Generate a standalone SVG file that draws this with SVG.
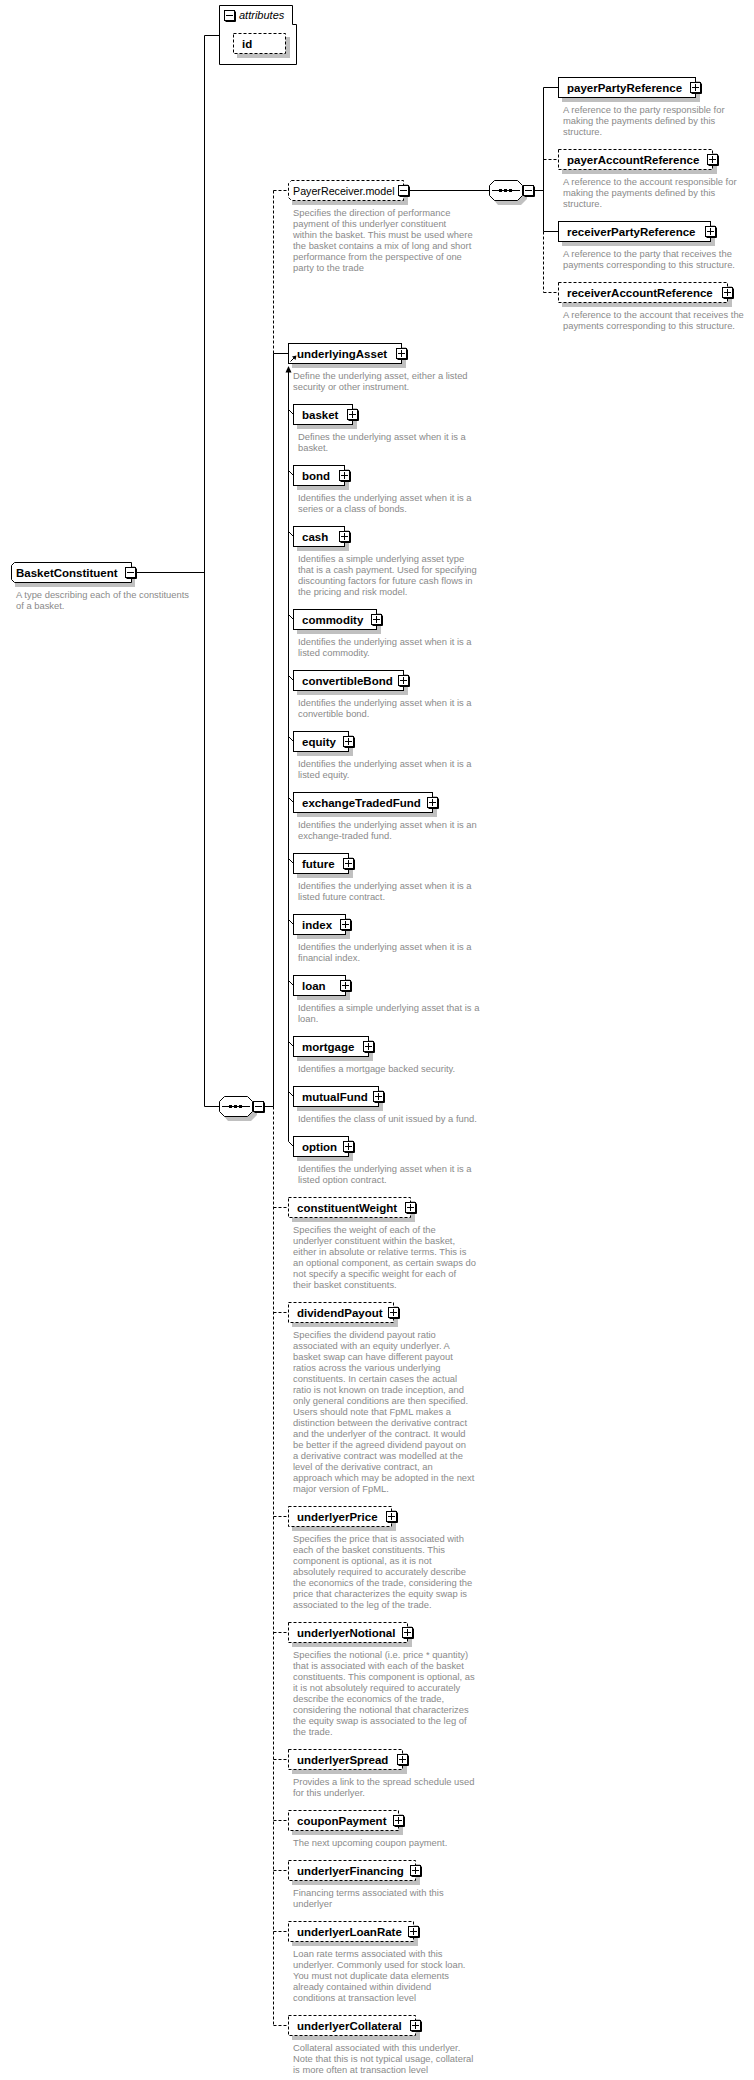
<svg xmlns="http://www.w3.org/2000/svg" xmlns:xlink="http://www.w3.org/1999/xlink" width="754" height="2080" viewBox="0 0 754 2080">
<style>
.bx{fill:#fff;stroke:#000;stroke-width:1}
.op{stroke-dasharray:3,2}
.sh{fill:#c0c0c0}
.lb{font-family:"Liberation Sans",Arial,sans-serif;font-size:11.5px;font-weight:bold;fill:#000}
.rg{font-family:"Liberation Sans",Arial,sans-serif;font-size:10.7px;fill:#000}
.it{font-family:"Liberation Sans",Arial,sans-serif;font-size:11px;font-style:italic;fill:#000}
.ds{font-family:"Liberation Sans",Arial,sans-serif;font-size:9.4px;fill:#8a8a8a}
.ln{stroke:#000;stroke-width:1;fill:none}
.dl{stroke:#000;stroke-width:1;fill:none;stroke-dasharray:3,2}
</style>
<defs>
<g id="plus"><path d="M11.5 1.5V11.5H1.5" class="ln"/><rect x="0.5" y="0.5" width="10" height="10" class="bx"/><path d="M2 5.5H9M5.5 2V9" class="ln"/></g>
<g id="minus"><path d="M11.5 1.5V11.5H1.5" class="ln"/><rect x="0.5" y="0.5" width="10" height="10" class="bx"/><path d="M2 5.5H9" class="ln"/></g>
</defs>

<g id="connectors">
<path class="ln" d="M204.5 35.5V1106.5M204.5 35.5H219.5M136 572.5H204.5M204.5 1106.5H219.5M264 1106.5H273.5"/>
<path class="dl" d="M273.5 190.5V353.5M273.5 190.5H288"/>
<path class="ln" d="M273.5 353.5V1106.5M273.5 353.5H288"/>
<path class="dl" d="M273.5 1106.5V2025.5M273.5 1207.5H288M273.5 1312.5H288M273.5 1516.5H288M273.5 1632.5H288M273.5 1759.5H288M273.5 1820.5H288M273.5 1870.5H288M273.5 1931.5H288M273.5 2025.5H288"/>
<path class="ln" d="M409 190.5H489.5M534 190.5H543.5M543.5 87.5V231.5M543.5 87.5H558M543.5 231.5H558"/>
<path class="dl" d="M543.5 231.5V292.5M543.5 159.5H558M543.5 292.5H558"/>
<path class="ln" d="M288.5 372V1141.5"/>
<polygon points="288.5,366 285.5,372.5 291.5,372.5" fill="#000"/>
<path class="ln" d="M288.5 409.5L293.5 414.5M288.5 470.5L293.5 475.5M288.5 531.5L293.5 536.5M288.5 614.5L293.5 619.5M288.5 675.5L293.5 680.5M288.5 736.5L293.5 741.5M288.5 797.5L293.5 802.5M288.5 858.5L293.5 863.5M288.5 919.5L293.5 924.5M288.5 980.5L293.5 985.5M288.5 1041.5L293.5 1046.5M288.5 1091.5L293.5 1096.5M288.5 1141.5L293.5 1146.5"/>
</g>

<g id="n-BasketConstituent">
<path class="sh" d="M18 566H135V587H15V569Z"/>
<path class="bx" d="M14.5 562.5H131.5V582.5H14.5L11.5 579.5V565.5Z"/>
<text class="lb" x="16" y="577">BasketConstituent</text>
<use href="#minus" x="125" y="567"/>
<text class="ds" x="16" y="598"><tspan x="16" dy="0">A type describing each of the constituents</tspan><tspan x="16" dy="11">of a basket.</tspan></text>
</g>

<g id="n-attributes">
<path class="bx" d="M219.5 5.5H292.5V24.5H296.5V64.5H219.5Z"/>
<use href="#minus" x="224" y="10"/>
<text class="it" x="239" y="19">attributes</text>
<rect class="sh" x="237" y="37" width="53" height="21"/>
<rect class="bx op" x="233.5" y="33.5" width="52" height="20"/>
<text class="lb" x="242" y="48">id</text>
</g>

<g id="n-sequence-main">
<polygon class="sh" points="228,1100 251,1100 257,1106 257,1115 251,1121 228,1121 223,1115 223,1106"/>
<polygon class="bx" points="224.5,1096.5 247.5,1096.5 252.5,1101.5 252.5,1111.5 247.5,1116.5 224.5,1116.5 219.5,1111.5 219.5,1101.5"/>
<path class="ln" d="M222 1106.5H250"/>
<rect x="229" y="1105" width="3" height="3"/><rect x="234" y="1105" width="3" height="3"/><rect x="239" y="1105" width="3" height="3"/>
<use href="#minus" x="253" y="1101"/>
</g>

<g id="n-PayerReceiver.model">
<path class="sh" d="M295 184H408V205H292V187Z"/>
<path class="bx op" d="M291.5 180.5H403.5V200.5H291.5L288.5 197.5V183.5Z"/>
<text class="rg" x="293" y="195">PayerReceiver.model</text>
<use href="#minus" x="398" y="185"/>
<text class="ds" x="293" y="216"><tspan x="293" dy="0">Specifies the direction of performance</tspan><tspan x="293" dy="11">payment of this underlyer constituent</tspan><tspan x="293" dy="11">within the basket. This must be used where</tspan><tspan x="293" dy="11">the basket contains a mix of long and short</tspan><tspan x="293" dy="11">performance from the perspective of one</tspan><tspan x="293" dy="11">party to the trade</tspan></text>
</g>

<g id="n-sequence-payer">
<polygon class="sh" points="498,184 521,184 527,190 527,199 521,205 498,205 493,199 493,190"/>
<polygon class="bx" points="494.5,180.5 517.5,180.5 522.5,185.5 522.5,195.5 517.5,200.5 494.5,200.5 489.5,195.5 489.5,185.5"/>
<path class="ln" d="M492 190.5H520"/>
<rect x="499" y="189" width="3" height="3"/><rect x="504" y="189" width="3" height="3"/><rect x="509" y="189" width="3" height="3"/>
<use href="#minus" x="523" y="185"/>
</g>

<g id="n-payerPartyReference">
<rect class="sh" x="562" y="81" width="138" height="21"/>
<rect class="bx" x="558.5" y="77.5" width="137" height="20"/>
<text class="lb" x="567" y="92">payerPartyReference</text>
<use href="#plus" x="690" y="82"/>
<text class="ds" x="563" y="113"><tspan x="563" dy="0">A reference to the party responsible for</tspan><tspan x="563" dy="11">making the payments defined by this</tspan><tspan x="563" dy="11">structure.</tspan></text>
</g>
<g id="n-payerAccountReference">
<rect class="sh" x="562" y="153" width="155" height="21"/>
<rect class="bx op" x="558.5" y="149.5" width="154" height="20"/>
<text class="lb" x="567" y="164">payerAccountReference</text>
<use href="#plus" x="707" y="154"/>
<text class="ds" x="563" y="185"><tspan x="563" dy="0">A reference to the account responsible for</tspan><tspan x="563" dy="11">making the payments defined by this</tspan><tspan x="563" dy="11">structure.</tspan></text>
</g>
<g id="n-receiverPartyReference">
<rect class="sh" x="562" y="225" width="153" height="21"/>
<rect class="bx" x="558.5" y="221.5" width="152" height="20"/>
<text class="lb" x="567" y="236">receiverPartyReference</text>
<use href="#plus" x="705" y="226"/>
<text class="ds" x="563" y="257"><tspan x="563" dy="0">A reference to the party that receives the</tspan><tspan x="563" dy="11">payments corresponding to this structure.</tspan></text>
</g>
<g id="n-receiverAccountReference">
<rect class="sh" x="562" y="286" width="170" height="21"/>
<rect class="bx op" x="558.5" y="282.5" width="169" height="20"/>
<text class="lb" x="567" y="297">receiverAccountReference</text>
<use href="#plus" x="722" y="287"/>
<text class="ds" x="563" y="318"><tspan x="563" dy="0">A reference to the account that receives the</tspan><tspan x="563" dy="11">payments corresponding to this structure.</tspan></text>
</g>

<g id="n-underlyingAsset">
<rect class="sh" x="292" y="347" width="114" height="21"/>
<rect class="bx" x="288.5" y="343.5" width="113" height="20"/>
<text class="lb" x="297" y="358">underlyingAsset</text>
<path class="ln" d="M290.5 361.5L294.5 357.5"/>
<polygon points="296.5,355.5 292,356.5 295.5,360" fill="#000"/>
<use href="#plus" x="396" y="348"/>
<text class="ds" x="293" y="379"><tspan x="293" dy="0">Define the underlying asset, either a listed</tspan><tspan x="293" dy="11">security or other instrument.</tspan></text>
</g>

<g id="n-basket">
<rect class="sh" x="297" y="408" width="60" height="21"/>
<rect class="bx" x="293.5" y="404.5" width="59" height="20"/>
<text class="lb" x="302" y="419">basket</text>
<use href="#plus" x="347" y="409"/>
<text class="ds" x="298" y="440"><tspan x="298" dy="0">Defines the underlying asset when it is a</tspan><tspan x="298" dy="11">basket.</tspan></text>
</g>
<g id="n-bond">
<rect class="sh" x="297" y="469" width="52" height="21"/>
<rect class="bx" x="293.5" y="465.5" width="51" height="20"/>
<text class="lb" x="302" y="480">bond</text>
<use href="#plus" x="339" y="470"/>
<text class="ds" x="298" y="501"><tspan x="298" dy="0">Identifies the underlying asset when it is a</tspan><tspan x="298" dy="11">series or a class of bonds.</tspan></text>
</g>
<g id="n-cash">
<rect class="sh" x="297" y="530" width="52" height="21"/>
<rect class="bx" x="293.5" y="526.5" width="51" height="20"/>
<text class="lb" x="302" y="541">cash</text>
<use href="#plus" x="339" y="531"/>
<text class="ds" x="298" y="562"><tspan x="298" dy="0">Identifies a simple underlying asset type</tspan><tspan x="298" dy="11">that is a cash payment. Used for specifying</tspan><tspan x="298" dy="11">discounting factors for future cash flows in</tspan><tspan x="298" dy="11">the pricing and risk model.</tspan></text>
</g>
<g id="n-commodity">
<rect class="sh" x="297" y="613" width="84" height="21"/>
<rect class="bx" x="293.5" y="609.5" width="83" height="20"/>
<text class="lb" x="302" y="624">commodity</text>
<use href="#plus" x="371" y="614"/>
<text class="ds" x="298" y="645"><tspan x="298" dy="0">Identifies the underlying asset when it is a</tspan><tspan x="298" dy="11">listed commodity.</tspan></text>
</g>
<g id="n-convertibleBond">
<rect class="sh" x="297" y="674" width="111" height="21"/>
<rect class="bx" x="293.5" y="670.5" width="110" height="20"/>
<text class="lb" x="302" y="685">convertibleBond</text>
<use href="#plus" x="398" y="675"/>
<text class="ds" x="298" y="706"><tspan x="298" dy="0">Identifies the underlying asset when it is a</tspan><tspan x="298" dy="11">convertible bond.</tspan></text>
</g>
<g id="n-equity">
<rect class="sh" x="297" y="735" width="56" height="21"/>
<rect class="bx" x="293.5" y="731.5" width="55" height="20"/>
<text class="lb" x="302" y="746">equity</text>
<use href="#plus" x="343" y="736"/>
<text class="ds" x="298" y="767"><tspan x="298" dy="0">Identifies the underlying asset when it is a</tspan><tspan x="298" dy="11">listed equity.</tspan></text>
</g>
<g id="n-exchangeTradedFund">
<rect class="sh" x="297" y="796" width="140" height="21"/>
<rect class="bx" x="293.5" y="792.5" width="139" height="20"/>
<text class="lb" x="302" y="807">exchangeTradedFund</text>
<use href="#plus" x="427" y="797"/>
<text class="ds" x="298" y="828"><tspan x="298" dy="0">Identifies the underlying asset when it is an</tspan><tspan x="298" dy="11">exchange-traded fund.</tspan></text>
</g>
<g id="n-future">
<rect class="sh" x="297" y="857" width="56" height="21"/>
<rect class="bx" x="293.5" y="853.5" width="55" height="20"/>
<text class="lb" x="302" y="868">future</text>
<use href="#plus" x="343" y="858"/>
<text class="ds" x="298" y="889"><tspan x="298" dy="0">Identifies the underlying asset when it is a</tspan><tspan x="298" dy="11">listed future contract.</tspan></text>
</g>
<g id="n-index">
<rect class="sh" x="297" y="918" width="53" height="21"/>
<rect class="bx" x="293.5" y="914.5" width="52" height="20"/>
<text class="lb" x="302" y="929">index</text>
<use href="#plus" x="340" y="919"/>
<text class="ds" x="298" y="950"><tspan x="298" dy="0">Identifies the underlying asset when it is a</tspan><tspan x="298" dy="11">financial index.</tspan></text>
</g>
<g id="n-loan">
<rect class="sh" x="297" y="979" width="53" height="21"/>
<rect class="bx" x="293.5" y="975.5" width="52" height="20"/>
<text class="lb" x="302" y="990">loan</text>
<use href="#plus" x="340" y="980"/>
<text class="ds" x="298" y="1011"><tspan x="298" dy="0">Identifies a simple underlying asset that is a</tspan><tspan x="298" dy="11">loan.</tspan></text>
</g>
<g id="n-mortgage">
<rect class="sh" x="297" y="1040" width="76" height="21"/>
<rect class="bx" x="293.5" y="1036.5" width="75" height="20"/>
<text class="lb" x="302" y="1051">mortgage</text>
<use href="#plus" x="363" y="1041"/>
<text class="ds" x="298" y="1072">Identifies a mortgage backed security.</text>
</g>
<g id="n-mutualFund">
<rect class="sh" x="297" y="1090" width="86" height="21"/>
<rect class="bx" x="293.5" y="1086.5" width="85" height="20"/>
<text class="lb" x="302" y="1101">mutualFund</text>
<use href="#plus" x="373" y="1091"/>
<text class="ds" x="298" y="1122">Identifies the class of unit issued by a fund.</text>
</g>
<g id="n-option">
<rect class="sh" x="297" y="1140" width="56" height="21"/>
<rect class="bx" x="293.5" y="1136.5" width="55" height="20"/>
<text class="lb" x="302" y="1151">option</text>
<use href="#plus" x="343" y="1141"/>
<text class="ds" x="298" y="1172"><tspan x="298" dy="0">Identifies the underlying asset when it is a</tspan><tspan x="298" dy="11">listed option contract.</tspan></text>
</g>

<g id="n-constituentWeight">
<rect class="sh" x="292" y="1201" width="123" height="21"/>
<rect class="bx op" x="288.5" y="1197.5" width="122" height="20"/>
<text class="lb" x="297" y="1212">constituentWeight</text>
<use href="#plus" x="405" y="1202"/>
<text class="ds" x="293" y="1233"><tspan x="293" dy="0">Specifies the weight of each of the</tspan><tspan x="293" dy="11">underlyer constituent within the basket,</tspan><tspan x="293" dy="11">either in absolute or relative terms. This is</tspan><tspan x="293" dy="11">an optional component, as certain swaps do</tspan><tspan x="293" dy="11">not specify a specific weight for each of</tspan><tspan x="293" dy="11">their basket constituents.</tspan></text>
</g>
<g id="n-dividendPayout">
<rect class="sh" x="292" y="1306" width="106" height="21"/>
<rect class="bx op" x="288.5" y="1302.5" width="105" height="20"/>
<text class="lb" x="297" y="1317">dividendPayout</text>
<use href="#plus" x="388" y="1307"/>
<text class="ds" x="293" y="1338"><tspan x="293" dy="0">Specifies the dividend payout ratio</tspan><tspan x="293" dy="11">associated with an equity underlyer. A</tspan><tspan x="293" dy="11">basket swap can have different payout</tspan><tspan x="293" dy="11">ratios across the various underlying</tspan><tspan x="293" dy="11">constituents. In certain cases the actual</tspan><tspan x="293" dy="11">ratio is not known on trade inception, and</tspan><tspan x="293" dy="11">only general conditions are then specified.</tspan><tspan x="293" dy="11">Users should note that FpML makes a</tspan><tspan x="293" dy="11">distinction between the derivative contract</tspan><tspan x="293" dy="11">and the underlyer of the contract. It would</tspan><tspan x="293" dy="11">be better if the agreed dividend payout on</tspan><tspan x="293" dy="11">a derivative contract was modelled at the</tspan><tspan x="293" dy="11">level of the derivative contract, an</tspan><tspan x="293" dy="11">approach which may be adopted in the next</tspan><tspan x="293" dy="11">major version of FpML.</tspan></text>
</g>
<g id="n-underlyerPrice">
<rect class="sh" x="292" y="1510" width="104" height="21"/>
<rect class="bx op" x="288.5" y="1506.5" width="103" height="20"/>
<text class="lb" x="297" y="1521">underlyerPrice</text>
<use href="#plus" x="386" y="1511"/>
<text class="ds" x="293" y="1542"><tspan x="293" dy="0">Specifies the price that is associated with</tspan><tspan x="293" dy="11">each of the basket constituents. This</tspan><tspan x="293" dy="11">component is optional, as it is not</tspan><tspan x="293" dy="11">absolutely required to accurately describe</tspan><tspan x="293" dy="11">the economics of the trade, considering the</tspan><tspan x="293" dy="11">price that characterizes the equity swap is</tspan><tspan x="293" dy="11">associated to the leg of the trade.</tspan></text>
</g>
<g id="n-underlyerNotional">
<rect class="sh" x="292" y="1626" width="120" height="21"/>
<rect class="bx op" x="288.5" y="1622.5" width="119" height="20"/>
<text class="lb" x="297" y="1637">underlyerNotional</text>
<use href="#plus" x="402" y="1627"/>
<text class="ds" x="293" y="1658"><tspan x="293" dy="0">Specifies the notional (i.e. price * quantity)</tspan><tspan x="293" dy="11">that is associated with each of the basket</tspan><tspan x="293" dy="11">constituents. This component is optional, as</tspan><tspan x="293" dy="11">it is not absolutely required to accurately</tspan><tspan x="293" dy="11">describe the economics of the trade,</tspan><tspan x="293" dy="11">considering the notional that characterizes</tspan><tspan x="293" dy="11">the equity swap is associated to the leg of</tspan><tspan x="293" dy="11">the trade.</tspan></text>
</g>
<g id="n-underlyerSpread">
<rect class="sh" x="292" y="1753" width="115" height="21"/>
<rect class="bx op" x="288.5" y="1749.5" width="114" height="20"/>
<text class="lb" x="297" y="1764">underlyerSpread</text>
<use href="#plus" x="397" y="1754"/>
<text class="ds" x="293" y="1785"><tspan x="293" dy="0">Provides a link to the spread schedule used</tspan><tspan x="293" dy="11">for this underlyer.</tspan></text>
</g>
<g id="n-couponPayment">
<rect class="sh" x="292" y="1814" width="111" height="21"/>
<rect class="bx op" x="288.5" y="1810.5" width="110" height="20"/>
<text class="lb" x="297" y="1825">couponPayment</text>
<use href="#plus" x="393" y="1815"/>
<text class="ds" x="293" y="1846">The next upcoming coupon payment.</text>
</g>
<g id="n-underlyerFinancing">
<rect class="sh" x="292" y="1864" width="128" height="21"/>
<rect class="bx op" x="288.5" y="1860.5" width="127" height="20"/>
<text class="lb" x="297" y="1875">underlyerFinancing</text>
<use href="#plus" x="410" y="1865"/>
<text class="ds" x="293" y="1896"><tspan x="293" dy="0">Financing terms associated with this</tspan><tspan x="293" dy="11">underlyer</tspan></text>
</g>
<g id="n-underlyerLoanRate">
<rect class="sh" x="292" y="1925" width="126" height="21"/>
<rect class="bx op" x="288.5" y="1921.5" width="125" height="20"/>
<text class="lb" x="297" y="1936">underlyerLoanRate</text>
<use href="#plus" x="408" y="1926"/>
<text class="ds" x="293" y="1957"><tspan x="293" dy="0">Loan rate terms associated with this</tspan><tspan x="293" dy="11">underlyer. Commonly used for stock loan.</tspan><tspan x="293" dy="11">You must not duplicate data elements</tspan><tspan x="293" dy="11">already contained within dividend</tspan><tspan x="293" dy="11">conditions at transaction level</tspan></text>
</g>
<g id="n-underlyerCollateral">
<rect class="sh" x="292" y="2019" width="128" height="21"/>
<rect class="bx op" x="288.5" y="2015.5" width="127" height="20"/>
<text class="lb" x="297" y="2030">underlyerCollateral</text>
<use href="#plus" x="410" y="2020"/>
<text class="ds" x="293" y="2051"><tspan x="293" dy="0">Collateral associated with this underlyer.</tspan><tspan x="293" dy="11">Note that this is not typical usage, collateral</tspan><tspan x="293" dy="11">is more often at transaction level</tspan></text>
</g>
</svg>
